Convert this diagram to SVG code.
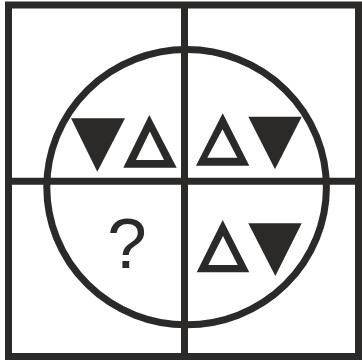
<svg xmlns="http://www.w3.org/2000/svg" width="362" height="361" viewBox="0 0 362 361">
<style>
.ln{fill:none;stroke:#2b2a28;stroke-width:7}
.f{fill:#2b2a28}
.o{fill:#2b2a28;fill-rule:evenodd}
.q{font-family:"Liberation Sans",Arial,sans-serif;font-size:71px;fill:#2b2a28}
</style>
<rect width="362" height="361" fill="#fff"/>
<g id="frame">
<rect class="ln" x="8.5" y="5" width="350" height="351.5"/>
<line class="ln" x1="184.5" y1="5" x2="184.5" y2="356.5"/>
<line class="ln" x1="8.5" y1="181.3" x2="358.5" y2="181.3"/>
<ellipse class="ln" cx="186.6" cy="187.2" rx="139.8" ry="137.6"/>
</g>
<g id="q-top-left">
<polygon class="f" points="71,118.3 125,118.3 97.3,171.7"/>
<path class="o" d="M149.3,115 L176.7,167.7 L123.3,167.7 Z M149.8,131.5 L164,160 L136,160 Z"/>
</g>
<g id="q-top-right">
<path class="o" d="M222.7,113.3 L249.3,165.7 L196,165.7 Z M222.5,129.3 L237.3,157.7 L207.3,157.7 Z"/>
<polygon class="f" points="248.3,116.7 301.7,116.7 275,169.3"/>
</g>
<g id="q-bottom-left">
<text class="q" x="127" y="268" text-anchor="middle">?</text>
</g>
<g id="q-bottom-right">
<path class="o" d="M222.7,220 L249.3,272.3 L196.7,272.3 Z M223,236 L237.7,265 L208.3,265 Z"/>
<polygon class="f" points="248.3,223.3 301.7,223.3 275.3,276"/>
</g>
</svg>
